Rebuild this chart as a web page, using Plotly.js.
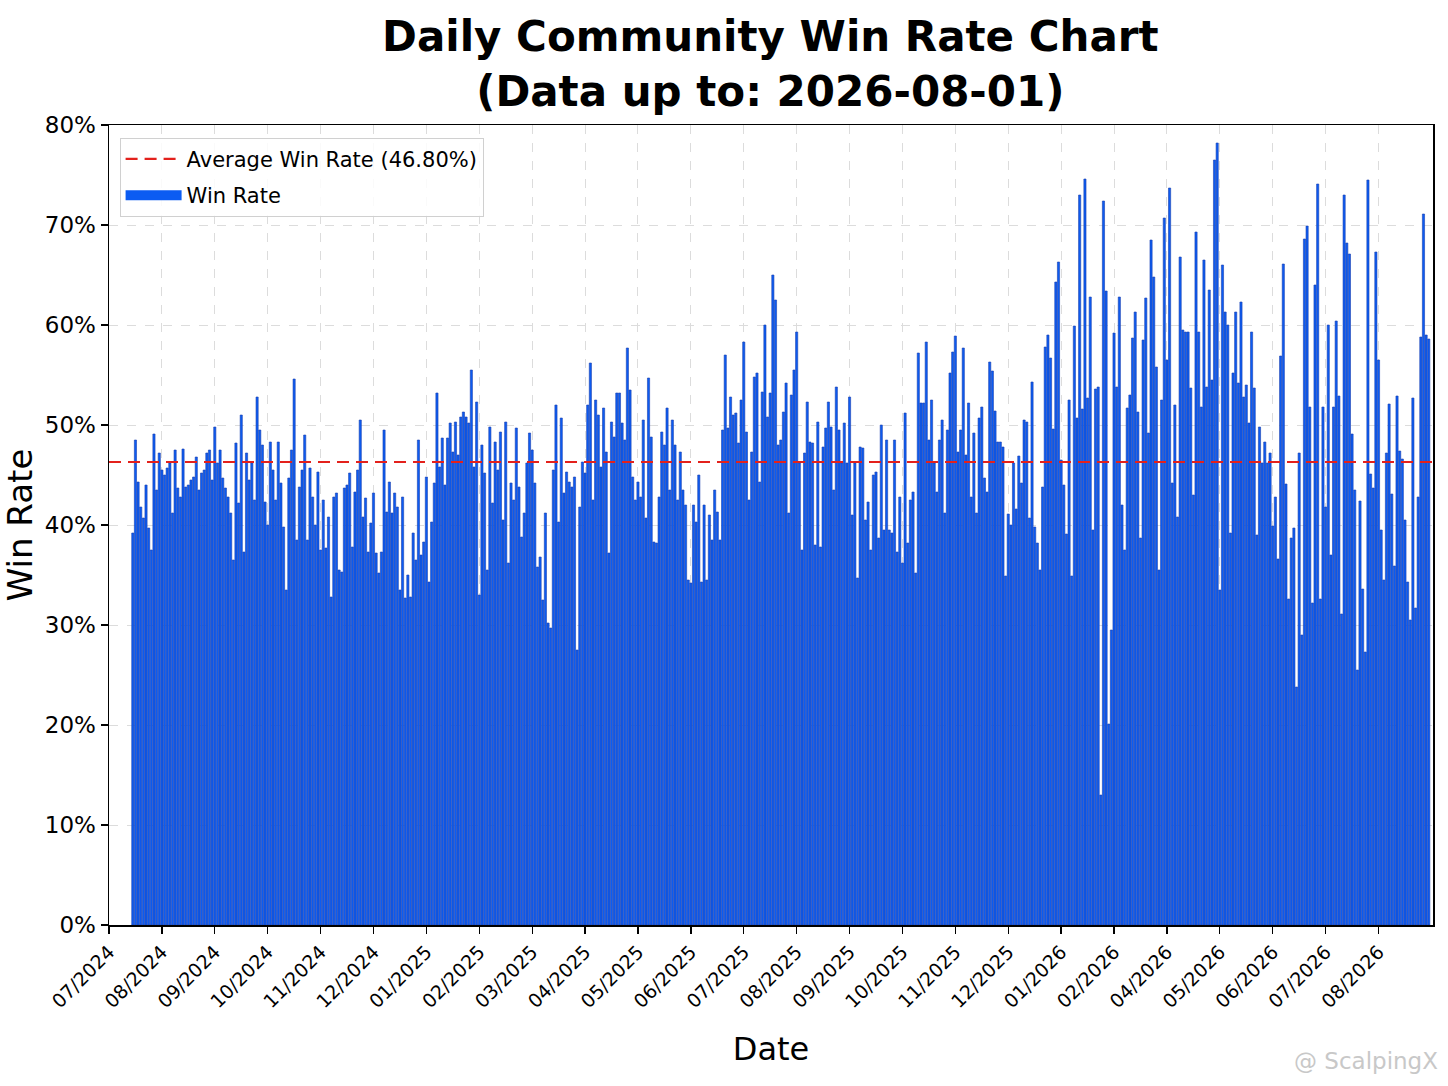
<!DOCTYPE html>
<html>
<head>
<meta charset="utf-8">
<script src="https://cdn.plot.ly/plotly-3.0.1.min.js"></script>
<style>
  html, body { margin: 0; padding: 0; background: #ffffff; }
  #chart1 { width: 1448px; height: 1086px; }
</style>
</head>
<body>
<div id="chart1"></div>
<script>
// month labels as printed under the axis (the source skips 03/2026)
const monthLabels = ['07/2024','08/2024','09/2024','10/2024','11/2024','12/2024',
    '01/2025','02/2025','03/2025','04/2025','05/2025','06/2025','07/2025','08/2025',
    '09/2025','10/2025','11/2025','12/2025','01/2026','02/2026','04/2026','05/2026',
    '06/2026','07/2026','08/2026']

// win rate per bar (%)
const rates2024 = [
    39.2,48.5,44.3,41.8,40.7,44,39.7,37.5,49.1,43.5,47.2,45.5,45,45.7,46.2,41.2,47.5,43.7,42.8,47.6,
    43.8,44,44.5,44.8,46.8,43.5,45.2,45.5,47.2,47.5,44.5,49.8,46.2,47.5,44.7,43.7,42.8,41.2,36.5,48.2,
    42.2,51,37.3,47.2,44.5,46.2,42.5,52.8,49.5,48,42.3,40,48.3,45.5,42.5,48.3,44.2,39.8,33.5,44.7,
    47.5,54.6,38.5,43.8,45.5,49,38.5,45.7,42.8,40,45.3,37.5,42.5,37.7,40.8,32.8,42.8,43.2,35.5,35.3,
    43.7,44,45.2,37.8,43.3,45.5,50.5,40.8,42.7,37.3,40.2,43.2,37.2,35.2,37.3,49.5,41.3,44.3,41.2,43.2,
    41.8,33.5,42.8,32.7,35,32.8,39.2,36.5,48.5,37,38.3
]
const rates2025 = [
    44.8,34.3,40.3,44.2,53.2,45.8,48.7,44,48.7,50.2,47.3,50.3,47,50.8,51.3,50.8,50.2,55.5,45.8,52.3,
    33,48,45.2,35.5,49.8,42.2,48.3,45.5,49.3,40.5,50.3,36.2,44.2,42.5,49.7,43.8,38.8,41.2,46.2,49.2,
    47.5,44.2,35.8,36.8,32.5,41.2,30.2,29.7,45.5,52,40.3,50.7,43.2,45.3,44.3,43.8,44.8,27.5,41.8,46.3,
    45.2,52,56.2,42.5,52.5,51,45.8,51.7,47.3,37.2,50.3,48.8,53.2,53.2,50.2,48.5,57.7,53.5,44.8,42.5,
    44.3,42.8,50.5,40.7,54.7,48.8,38.3,38.2,42.8,49.3,48,51.7,43.5,50.5,48,42.5,47.3,43.5,42,34.5,
    34.2,42,40.3,45,34.3,42,34.5,41,38.5,43.5,41.3,38.5,49.5,57,49.7,52.8,51,51.2,48.2,52.5,
    58.3,49.3,42.5,47.3,54.8,55.2,44.3,53.3,60,50.8,53.2,65,62.5,48,48.5,51.3,54.2,41.2,53,55.5,
    59.3,46.2,37.5,47.2,52.3,48.3,48.2,38,50.3,37.8,47.8,49.7,52.3,49.8,43.5,53.8,49.5,46.2,50.2,46.2,
    52.8,41,46.2,34.7,47.8,47.7,40.5,42.3,37.5,45,45.3,38.7,50,39.5,48.5,39.5,39.2,48.5,37.3,42.8,
    36.2,51.2,38.2,42.5,43.3,35.2,57.2,52.2,52.2,58.3,48.5,52.5,46.2,43.3,48.5,50.5,41.2,49.5,55.2,57.3,
    58.9,47.3,49.5,57.7,47,52.2,42.8,49.2,41.2,50.7,51.8,44.7,43.3,56.3,55.4,51.4,48.3,48.3,47.8,34.9,
    41.1,40,46.2,41.6,46.9,44.2,50.5,50.3,40.7,54.3,39.8,38.2,35.5,43.8,57.8,59,56.7,49.6,64.3,66.3
]
const rates2026 = [
    46.5,44,39.1,52.5,34.9,59.9,50.7,73,51.6,74.6,52.7,62.8,39.5,53.6,53.8,13,72.4,63.4,20.1,29.5,
    59.2,53.8,62.8,42,37.5,51.7,53,58.7,61.3,51.3,38.7,58.5,62.7,49.2,68.5,64.8,55.8,35.5,52.5,70.7,
    56.5,73.7,44.2,52,40.8,66.8,59.5,59.3,59.3,53.7,43,69.3,59.3,51.8,66.5,53.8,63.5,54.5,76.5,78.2,
    33.5,66,61.3,60,39.2,55.2,61.3,54.2,62.3,52.8,54,50.2,59.3,53.7,39,49.8,46.2,48.3,46.2,47.2,
    39.9,42.8,36.6,56.9,66.1,44.1,32.6,38.7,39.7,23.8,47.2,29,68.6,69.9,51.8,32.2,64,74.1,32.6,51.8,
    41.8,60,37,51.8,60.4,52.9,31.1,73,68.2,67.1,49.1,43.5,25.5,42.4,33.6,27.3,74.5,45.1,43.7,67.3,
    56.5,39.5,34.5,47.2,52.1,43.1,35.9,52.9,47.4,46.6,40.5,34.3,30.5,52.7,31.7,42.8,58.8,71.1,59,58.6
]

const avgLine = 46.3          // where the dashed line sits
const avgLabel = '46.80%'     // what the legend says

const barsPerMonth = 20
const firstTick = -9
const xRange = [firstTick, 491.6]

const FONT = 'DejaVu Sans, sans-serif'
const BLUE = '#0c5cf2'

var winRate = rates2024.concat(rates2025, rates2026)
var xIdx = winRate.map((v, i) => i)
var tickVals = monthLabels.map((m, k) => firstTick + k * barsPerMonth)

var bars = {
    x: xIdx,
    y: winRate,
    type: 'bar',
    name: 'Win Rate',
    showlegend: false,
    marker: { color: BLUE, line: { color: '#1b3fae', width: 0.6 } },
    hoverinfo: 'y',
}

var avg = {
    x: xRange.slice(),
    y: [avgLine, avgLine],
    type: 'scatter',
    mode: 'lines',
    name: 'Average Win Rate (' + avgLabel + ')',
    legendgroup: 'avg',
    line: { color: '#e3211c', width: 2.2, dash: '12px,7px' },
    hoverinfo: 'skip',
}

// legend swatch only (wide block like the source legend)
var barKey = {
    x: [null],
    y: [null],
    type: 'scatter',
    mode: 'lines',
    name: 'Win Rate',
    legendgroup: 'rate',
    line: { color: BLUE, width: 16 },
    hoverinfo: 'skip',
}

var layout = {
    width: 1448,
    height: 1086,
    paper_bgcolor: '#ffffff',
    plot_bgcolor: '#ffffff',
    font: { family: FONT, color: '#000000' },
    margin: { l: 109, r: 15, t: 125, b: 161 },
    bargap: 0.18,
    showlegend: true,
    title: {
        text: 'Daily Community Win Rate Chart<br>(Data up to: 2026-08-01)',
        font: { family: FONT, size: 42, weight: 'bold', color: '#000000' },
        x: 0.532, xanchor: 'center',
        y: 0.953, yanchor: 'top',
    },
    xaxis: {
        range: xRange,
        tickvals: tickVals,
        ticktext: monthLabels,
        tickangle: -45,
        tickfont: { family: FONT, size: 19 },
        ticks: 'outside', ticklen: 7, tickwidth: 1.3, tickcolor: '#000',
        showgrid: true, gridcolor: '#dcdcdc', griddash: 'dash', gridwidth: 1,
        showline: true, linecolor: '#000', linewidth: 1.5, mirror: true,
        zeroline: false,
        fixedrange: true,
        title: { text: 'Date', font: { family: FONT, size: 32 }, standoff: 26 },
    },
    yaxis: {
        range: [0, 80],
        dtick: 10,
        ticksuffix: '%',
        tickfont: { family: FONT, size: 23 },
        ticks: 'outside', ticklen: 7, tickwidth: 1.3, tickcolor: '#000',
        showgrid: true, gridcolor: '#dcdcdc', griddash: 'dash', gridwidth: 1,
        showline: true, linecolor: '#000', linewidth: 1.5, mirror: true,
        zeroline: false,
        fixedrange: true,
        title: { text: 'Win Rate', font: { family: FONT, size: 34 }, standoff: 10 },
    },
    legend: {
        x: 0.008, y: 0.984, xanchor: 'left', yanchor: 'top',
        bgcolor: 'rgba(255,255,255,0.85)',
        bordercolor: '#d0d0d0', borderwidth: 1,
        font: { family: FONT, size: 21 },
        traceorder: 'grouped',
        tracegroupgap: 6,
        itemwidth: 56,
    },
    annotations: [{
        text: '@ ScalpingX',
        xref: 'paper', yref: 'paper',
        x: 1.005, y: -0.17, xanchor: 'right', yanchor: 'middle',
        showarrow: false,
        font: { family: FONT, size: 23, color: '#c8c8c8' },
    }],
}

Plotly.newPlot('chart1', [bars, avg, barKey], layout, { displayModeBar: false, staticPlot: true })
</script>
</body>
</html>
